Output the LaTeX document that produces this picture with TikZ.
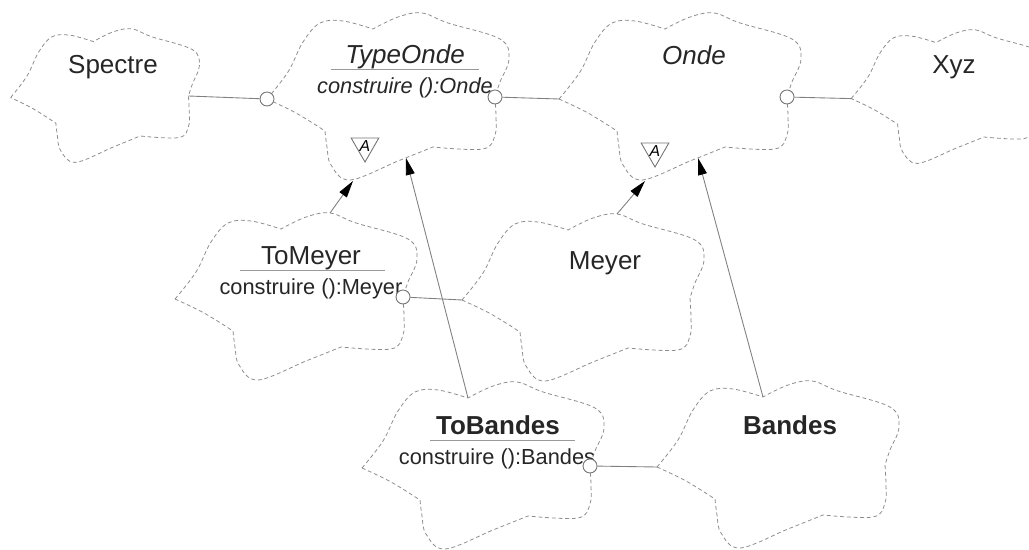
\documentclass[tikz,border=0pt]{standalone}
\usepackage{fontspec}
\setmainfont{Liberation Sans}
\usetikzlibrary{arrows.meta, shapes.geometric}

\begin{document}
\begin{tikzpicture}[
  x=0.02cm, y=-0.02cm,
  cloudline/.style={draw=black!45, line width=0.45pt, dash pattern=on 2.2pt off 1.6pt},
  pics/classcloud/.style={code={
    \draw[cloudline]
      plot[smooth, tension=0.6] coordinates {(-121,2) (-100,-25) (-85,-55) (-68,-74) (-45,-76) (-15,-68)}
      -- plot[smooth, tension=0.6] coordinates {(-15,-68) (10,-80) (34,-84) (60,-74) (112,-58) (121,-38) (112,-15) (107,0)}
      -- plot[smooth, tension=0.6] coordinates {(107,0) (108,20) (107,38) (95,52) (45,50)}
      -- plot[smooth, tension=0.6] coordinates {(45,50) (10,64) (-38,83) (-57,68) (-61,50) (-63,34)}
      -- plot[smooth, tension=0.6] coordinates {(-63,34) (-92,16) (-121,2)} -- cycle;
    \coordinate (-w) at (-121,2);
    \coordinate (-e) at (107,0);
    \coordinate (-n) at (-15,-68);
    \coordinate (-top) at (34,-84);
    \coordinate (-s) at (-35,84);
    \coordinate (-s2) at (18,61);
  }},
  classname/.style={font=\fontsize{14.8}{17}\selectfont, text=black!85, anchor=base, inner sep=0pt},
  classnameit/.style={classname, font=\fontsize{14.8}{17}\selectfont\itshape},
  classnamebf/.style={classname, font=\fontsize{14.8}{17}\selectfont\bfseries},
  classop/.style={font=\fontsize{12.4}{15}\selectfont, text=black!85, anchor=base, inner sep=0pt},
  classopit/.style={classop, font=\fontsize{12.4}{15}\selectfont\itshape},
  sepline/.style={draw=black!40, line width=0.5pt},
  usecirc/.style={circle, draw=black!55, fill=white, line width=0.5pt, minimum size=0.28cm, inner sep=0pt},
  assoc/.style={draw=black!50, line width=0.5pt},
  genarrow/.style={draw=black!50, line width=0.5pt, -{Triangle[length=0.34cm, width=0.18cm, color=black]}},
  abstri/.style={regular polygon, regular polygon sides=3, shape border rotate=180, draw=black!55,
                 line width=0.5pt, minimum size=0.64cm, inner sep=0pt, font=\fontsize{9}{10}\selectfont\itshape}
]
\path[use as bounding box, clip] (0,0) rectangle (1029,550);

% class clouds
\pic[xscale=0.78, yscale=0.8] (spectre) at (105,96) {classcloud};
\pic (typeonde) at (388,97) {classcloud};
\pic (onde) at (680,97) {classcloud};
\pic[scale=0.8] (xyz) at (948,97) {classcloud};
\pic (tomeyer) at (296,297) {classcloud};
\pic (meyer) at (583,298) {classcloud};
\pic (tobandes) at (483,466) {classcloud};
\pic (bandes) at (778,465) {classcloud};

% names and operations
\node[classname] (spectre-name) at (113,74) {Spectre};
\node[classnameit] (typeonde-name) at (405,64) {TypeOnde};
\draw[sepline] (typeonde-name.base) ++(-74,5) -- ++(148,0);
\node[classopit] (typeonde-op) at (405,94) {construire ():Onde};
\node[abstri] (typeonde-abs) at (365,146) {A};
\node[classnameit] (onde-name) at (694,65) {Onde};
\node[abstri] (onde-abs) at (655,151) {A};
\node[classname] (xyz-name) at (954,74) {Xyz};
\node[classname] (tomeyer-name) at (311,265) {ToMeyer};
\draw[sepline] (tomeyer-name.base) ++(-71,5) -- ++(145,0);
\node[classop] (tomeyer-op) at (311,295) {construire ():Meyer};
\node[classname] (meyer-name) at (605,270) {Meyer};
\node[classnamebf] (tobandes-name) at (498,435) {ToBandes};
\draw[sepline] (tobandes-name.base) ++(-68,5) -- ++(145,0);
\node[classop] (tobandes-op) at (497,465) {construire ():Bandes};
\node[classnamebf] (bandes-name) at (790,435) {Bandes};

% uses
\node[usecirc] (typeonde-lc) at (typeonde-w) {};
\node[usecirc] (typeonde-rc) at (typeonde-e) {};
\node[usecirc] (onde-rc) at (onde-e) {};
\node[usecirc] (tomeyer-rc) at (tomeyer-e) {};
\node[usecirc] (tobandes-rc) at (tobandes-e) {};

\draw[assoc] (spectre-e) -- (typeonde-lc);
\draw[assoc] (typeonde-rc) -- (onde-w);
\draw[assoc] (onde-rc) -- (xyz-w);
\draw[assoc] (tomeyer-rc) -- (meyer-w);
\draw[assoc] (tobandes-rc) -- (bandes-w);

% inheritance
\draw[genarrow] (tomeyer-top) -- (typeonde-s);
\draw[genarrow] (tobandes-n) -- (typeonde-s2);
\draw[genarrow] (meyer-top) -- (onde-s);
\draw[genarrow] (bandes-n) -- (onde-s2);
\end{tikzpicture}
\end{document}
